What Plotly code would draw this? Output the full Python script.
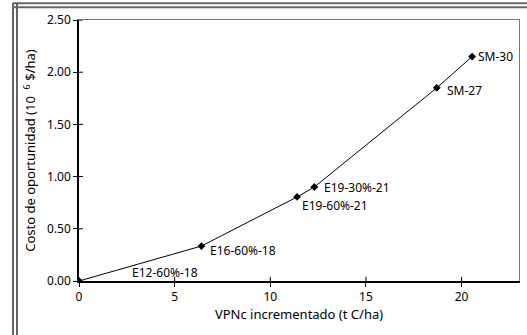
import plotly.graph_objects as go

# Data
vpnc = [0.0, 6.4, 11.4, 12.3, 18.7, 20.55]
costo = [0.0, 0.335, 0.805, 0.90, 1.85, 2.15]
labels = ["E12-60%-18", "E16-60%-18", "E19-60%-21", "E19-30%-21", "SM-27", "SM-30"]
label_shift_x = [51, 7, 3, 8, 8, 4]
label_shift_y = [9, -4, -9, 0, -3, 0]

x_ticks = [0, 5, 10, 15, 20]
y_ticks = [0.0, 0.5, 1.0, 1.5, 2.0, 2.5]

FONT = "Noto Sans"

fig = go.Figure()
fig.add_trace(go.Scatter(
    x=vpnc, y=costo, mode="lines+markers",
    line=dict(color="black", width=1),
    marker=dict(symbol="diamond", size=6, color="black"),
    showlegend=False, hoverinfo="skip",
))
fig.add_trace(go.Scatter(x=[0], y=[0], xaxis="x2", yaxis="y2", mode="markers",
                         marker=dict(opacity=0), showlegend=False, hoverinfo="skip"))

for xv, yv, lab, sx, sy in zip(vpnc, costo, labels, label_shift_x, label_shift_y):
    fig.add_annotation(x=xv, y=yv, text=lab, showarrow=False, xanchor="left",
                       yanchor="middle", xshift=sx, yshift=sy,
                       font=dict(family=FONT, size=12, color="black"))

axis_font = dict(family=FONT, size=12, color="black")
title_font = dict(family=FONT, size=13, color="black")
fig.update_layout(
    width=527, height=335,
    margin=dict(l=79, r=8, t=20, b=54, autoexpand=False),
    paper_bgcolor="white", plot_bgcolor="white",
    font=axis_font,
    xaxis=dict(range=[0, 23], tickvals=x_ticks, ticktext=[str(v) for v in x_ticks],
               ticks="outside", ticklen=4, tickwidth=1, tickcolor="black",
               showline=True, linecolor="black", linewidth=1.5,
               showgrid=False, zeroline=False, tickfont=axis_font, automargin=False,
               title=dict(text="VPNc incrementado (t C/ha)", font=title_font, standoff=4)),
    yaxis=dict(range=[0, 2.5], tickvals=y_ticks, tickformat=".2f",
               ticks="outside", ticklen=4, tickwidth=1, tickcolor="black",
               showline=True, linecolor="black", linewidth=1.5,
               showgrid=False, zeroline=False, tickfont=axis_font, automargin=False,
               title=dict(text="Costo de oportunidad (10  <sup>6</sup> $/ha)", font=title_font, standoff=8)),
    xaxis2=dict(range=[0, 23], overlaying="x", side="top",
                ticks="", showticklabels=False, showline=True, linecolor="#777",
                linewidth=1, showgrid=False, zeroline=False),
    yaxis2=dict(range=[0, 2.5], overlaying="y", side="right",
                ticks="", showticklabels=False, showline=True, linecolor="#777",
                linewidth=1, showgrid=False, zeroline=False),
)

# inner part of crossing ticks
for xv in x_ticks[1:]:
    fig.add_shape(type="line", xref="x", yref="paper", x0=xv, x1=xv, y0=0, y1=0.016,
                  line=dict(color="black", width=1))
for yv in y_ticks[1:]:
    fig.add_shape(type="line", xref="paper", yref="y", x0=0, x1=0.009, y0=yv, y1=yv,
                  line=dict(color="black", width=1))

# outer double frame
frame_color = "#666"
for px in (-0.15, -0.1409):
    fig.add_shape(type="line", xref="paper", yref="paper", x0=px, x1=px, y0=-0.3, y1=1.066,
                  line=dict(color=frame_color, width=2))
for py in (1.064, 1.049):
    fig.add_shape(type="line", xref="paper", yref="paper", x0=-0.15, x1=1.05, y0=py, y1=py,
                  line=dict(color=frame_color, width=2))

fig.write_html("out.html", config={"displayModeBar": False},
               post_script="document.body.style.margin='0px';")
